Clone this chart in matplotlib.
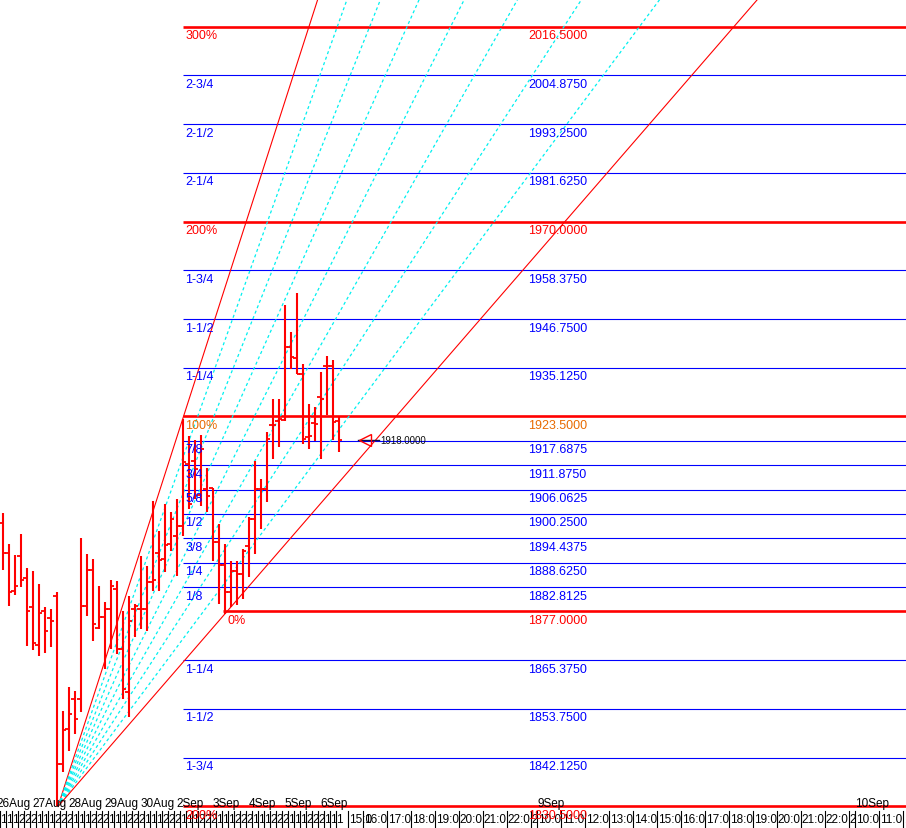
import matplotlib
matplotlib.use("Agg")
import matplotlib.pyplot as plt
import matplotlib.transforms as mtransforms

plt.rcParams['font.family'] = ['Liberation Sans', 'DejaVu Sans']
plt.rcParams['lines.scale_dashes'] = False

# ---------------- data: hourly OHLC bars (26 Aug - 6 Sep) ----------------
opens = [1898.1, 1891.0, 1881.9, 1890.2, 1885.0, 1878.1, 1869.0, 1877.1, 1875.45, 1880.7,
         1840.6, 1849.0, 1856.1, 1856.1, 1878.3, 1886.9, 1873.1, 1875.7, 1877.6, 1882.4,
         1868.1, 1857.8, 1877.6, 1877.6, 1877.6, 1884.0, 1891.0, 1889.5, 1893.1, 1895.0,
         1897.4, 1912.2, 1912.9, 1904.8, 1906.2, 1906.45, 1893.6, 1888.1, 1881.65, 1886.7,
         1885.9, 1892.6, 1899.1, 1906.2, 1906.2, 1921.5, 1922.4, 1922.7, 1940.1, 1937.45,
         1933.6, 1918.6, 1921.95, 1928.15, 1935.5, 1935.5, 1922.4]
highs = [1900.5, 1893.1, 1890.5, 1895.5, 1887.4, 1886.7, 1883.6, 1878.1, 1877.6, 1881.65,
         1853.3, 1859.0, 1858.0, 1894.5, 1890.7, 1889.5, 1883.1, 1879.3, 1884.5, 1884.3,
         1877.1, 1880.7, 1878.8, 1890.2, 1887.85, 1903.35, 1896.2, 1902.6, 1900.7, 1903.8,
         1922.9, 1918.85, 1917.9, 1919.1, 1911.2, 1906.45, 1897.9, 1893.1, 1889.0, 1889.0,
         1891.9, 1899.5, 1912.9, 1908.6, 1919.8, 1927.7, 1927.7, 1950.1, 1943.65, 1953.0,
         1936.0, 1926.5, 1925.8, 1934.1, 1937.9, 1937.0, 1923.4]
lows = [1886.9, 1878.3, 1880.9, 1882.8, 1868.8, 1867.8, 1866.4, 1867.1, 1868.5, 1830.5,
        1838.7, 1843.7, 1847.8, 1853.0, 1875.9, 1870.0, 1872.8, 1863.3, 1868.1, 1866.9,
        1856.1, 1851.8, 1870.9, 1872.8, 1872.35, 1881.9, 1881.9, 1886.4, 1891.4, 1885.5,
        1895.0, 1901.4, 1903.8, 1902.2, 1900.7, 1889.0, 1878.8, 1876.4, 1878.1, 1878.55,
        1880.0, 1885.2, 1890.7, 1896.7, 1903.1, 1913.4, 1916.2, 1922.4, 1934.8, 1933.6,
        1916.9, 1915.75, 1917.7, 1913.4, 1923.9, 1917.9, 1915.0]
closes = [1891.0, 1881.65, 1883.1, 1884.5, 1877.1, 1869.5, 1876.6, 1872.35, 1874.7, 1840.6,
          1848.7, 1852.6, 1851.4, 1878.3, 1886.9, 1874.0, 1875.7, 1877.6, 1883.1, 1868.1,
          1858.5, 1874.7, 1878.3, 1877.6, 1884.0, 1884.5, 1889.3, 1892.9, 1899.1, 1897.4,
          1912.65, 1902.6, 1911.0, 1915.75, 1904.5, 1893.6, 1888.1, 1881.65, 1886.7, 1885.9,
          1891.4, 1899.1, 1906.2, 1906.2, 1918.1, 1921.5, 1922.9, 1940.1, 1937.7, 1933.6,
          1918.1, 1918.85, 1921.7, 1927.7, 1935.5, 1922.2, 1918.0]
last_price = 1918.0

# day labels (bar index where each day starts)
day_labels = ["26Aug", "27Aug", "28Aug", "29Aug", "30Aug", "2Sep", "3Sep", "4Sep", "5Sep", "6Sep"]
day_start_bar = [-1, 5, 11, 17, 23, 29, 35, 41, 47, 53]
bar_hour_labels = ["1", "1", "1", "2", "2", "2"]  # per-bar hour label (clipped)

# future time axis (hour labels and widths in bar slots)
future_labels = ["15:0", "16:0", "17:0", "18:0", "19:0", "20:0", "21:0", "22:0", "2",
                 "10:0", "11:0", "12:0", "13:0", "14:0", "15:0", "16:0", "17:0", "18:0",
                 "19:0", "20:0", "21:0", "22:0", "2", "10:0", "11:0", "1"]
future_widths = [2.5, 4, 4, 4, 4, 4, 4, 4, 1, 4, 4, 4, 4, 4, 4, 4, 4, 4, 4, 4, 4, 4, 1, 4, 4, 4]
future_start = 57.57
future_day_labels = ["9Sep", "10Sep"]
future_day_index = [9, 23]  # index into future ticks

# Gann levels
level_prices = [2016.5, 2004.875, 1993.25, 1981.625, 1970.0, 1958.375, 1946.75, 1935.125,
                1923.5, 1917.6875, 1911.875, 1906.0625, 1900.25, 1894.4375, 1888.625,
                1882.8125, 1877.0, 1865.375, 1853.75, 1842.125, 1830.5]
level_names = ["300%", "2-3/4", "2-1/2", "2-1/4", "200%", "1-3/4", "1-1/2", "1-1/4",
               "100%", "7/8", "3/4", "5/8", "1/2", "3/8", "1/4", "1/8", "0%",
               "1-1/4", "1-1/2", "1-3/4", "200%"]
major_levels = [2016.5, 1970.0, 1923.5, 1877.0, 1830.5]

# Gann fan anchors (bar index, price)
fan_apex = (9.23, 1830.5)
fan_top = (30.15, 1923.5)
fan_bottom = (37.4, 1877.0)
fan_divisions = 8

# ---------------- styling ----------------
RED = '#FF0000'
BLUE = '#0000FF'
ORANGE = '#E86A00'
CYAN = '#00F0F0'

fig = plt.figure(figsize=(9.06, 8.29), dpi=100)
ax = fig.add_axes([0, 0, 1, 1])
ax.set_xlim(-0.433, 150.57)
ax.set_ylim(1825.37, 2023.06)
ax.axis('off')

x_right = 150.57

# level lines
for p in level_prices:
    if p in major_levels:
        x_start = fan_bottom[0] - 0.6 if p == 1877.0 else fan_top[0] - 0.1
        ax.hlines(p, x_start, x_right, color=RED, lw=1.9, zorder=2)
    else:
        ax.hlines(p, fan_top[0] - 0.1, x_right, color=BLUE, lw=0.8, zorder=2)

# fan lines
x_far = 200.0
ax_, ay_ = fan_apex
for i in range(fan_divisions + 1):
    t = i / fan_divisions
    px = fan_top[0] + (fan_bottom[0] - fan_top[0]) * t
    py = fan_top[1] + (fan_bottom[1] - fan_top[1]) * t
    slope = (py - ay_) / (px - ax_)
    ys = ay_ + slope * (x_far - ax_)
    if i == 0 or i == fan_divisions:
        ax.plot([ax_, x_far], [ay_, ys], color=RED, lw=0.8, zorder=3)
    else:
        ax.plot([ax_, x_far], [ay_, ys], color=CYAN, lw=0.9, dashes=(2.2, 2.0), zorder=3)

# OHLC bars
xs = list(range(len(opens)))
ax.vlines(xs, lows, highs, color=RED, lw=1.5, zorder=4)
ax.hlines(opens, [x - 0.55 for x in xs], xs, color=RED, lw=1.3, zorder=4)
ax.hlines(closes, xs, [x + 0.55 for x in xs], color=RED, lw=1.3, zorder=4)

# level labels
off_down = mtransforms.offset_copy(ax.transData, fig=fig, x=0, y=-2.5, units='dots')
left_col = fan_top[0] + 0.3
right_col = 87.57
for p, name in zip(level_prices, level_names):
    if p == 1923.5:
        col = ORANGE
    elif p in major_levels:
        col = RED
    else:
        col = BLUE
    lx = fan_bottom[0] + 0.1 if name == "0%" else left_col
    ax.text(lx, p, name, color=col, fontsize=9, ha='left', va='top',
            transform=off_down, zorder=6)
    ax.text(right_col, p, "%.4f" % p, color=col, fontsize=9, ha='left', va='top',
            transform=off_down, zorder=6)

# last price marker
tip_x = 59.2
ax.plot([tip_x, tip_x + 3.6], [last_price, last_price], color='#101040', lw=1.0, zorder=5)
ax.plot([tip_x + 1.2], [last_price], marker='<', ms=8, mfc='none', mec=RED, mew=1.0, zorder=5)
ax.text(tip_x + 3.7, last_price, "%.4f" % last_price, color='#101010', fontsize=7,
        ha='left', va='center', zorder=6)

# time axis strip
strip = mtransforms.blended_transform_factory(ax.transData, ax.transAxes)
tick_top = 0.0205
# past bars
for k in range(len(opens)):
    xt = k - 0.5
    ax.plot([xt, xt], [0, tick_top], color='black', lw=0.8, transform=strip, zorder=5)
    ax.text(xt + 0.12, 0.011, bar_hour_labels[k % 6], fontsize=8.5, ha='left', va='center',
            transform=strip, zorder=5)
# future ticks
pos = future_start
future_pos = []
for lab, w in zip(future_labels, future_widths):
    future_pos.append(pos)
    ax.plot([pos, pos], [0, tick_top], color='black', lw=0.8, transform=strip, zorder=5)
    t = ax.text(pos + 0.15, 0.011, lab, fontsize=8.5, ha='left', va='center',
                transform=strip, zorder=5)
    pos += w
# day labels
for lab, k in zip(day_labels, day_start_bar):
    ax.text(k - 0.05, 0.030, lab, fontsize=8.5, ha='left', va='center', transform=strip, zorder=5)
for lab, i in zip(future_day_labels, future_day_index):
    ax.text(future_pos[i], 0.030, lab, fontsize=8.5, ha='left', va='center', transform=strip, zorder=5)

fig.savefig("out.png", dpi=100)
